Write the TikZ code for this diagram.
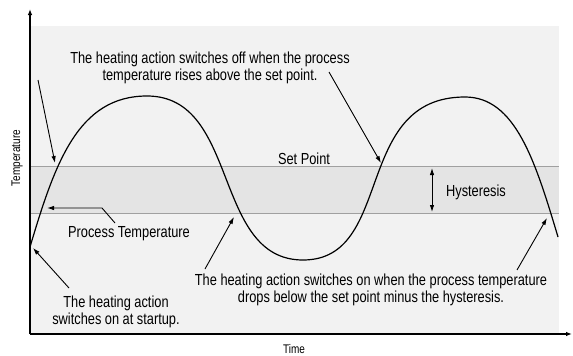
\documentclass[tikz,border=0pt]{standalone}
\usepackage{fontspec}
\setmainfont{Liberation Sans}[FakeStretch=0.8]
\usetikzlibrary{arrows.meta}

\definecolor{plotbg}{HTML}{F2F2F2}
\definecolor{bandbg}{HTML}{E4E4E4}
\definecolor{bandline}{HTML}{A0A0A0}

\begin{document}
\begin{tikzpicture}[x=1pt, y=-1pt,
  note/.style={font=\fontsize{16}{17}\selectfont, align=center, inner sep=0pt},
  axislabel/.style={font=\fontsize{12.5}{14}\selectfont, inner sep=0pt},
  pointer/.style={black, line width=0.9pt, -{Latex[length=7pt,width=4.5pt]}},
  axis/.style={black, line width=1.1pt, -{Latex[length=6pt,width=4.5pt]}}]
\useasboundingbox (0,0) rectangle (573,356);
% background and hysteresis band
\fill[plotbg] (30,26) rectangle (559,334);
\fill[bandbg] (30,166) rectangle (559,213);
\draw[bandline, line width=1pt] (30,166) -- (559,166);
\draw[bandline, line width=1pt] (30,213) -- (559,213);
% axes
\coordinate (origin) at (30,334);
\coordinate (ytop) at (30,9);
\coordinate (xend) at (572,334);
\draw[axis] (origin) -- (ytop);
\draw[axis] (origin) -- (xend);
\node[axislabel, rotate=90] (templabel) at (17,158) {Temperature};
\node[axislabel, anchor=base] (timelabel) at (294,353) {Time};
% process temperature curve
\draw[black, line width=1.2pt] (30,247) .. controls (55,163) and (78,96) .. (147,96)
  .. controls (240,96) and (212,260) .. (303,260)
  .. controls (395,260) and (352,97) .. (465,97)
  .. controls (515,97) and (535,160) .. (558,237);
% texts
\node[note, anchor=base] (offnote) at (210,80) {The heating action switches off when the process\\temperature rises above the set point.};
\node[note, anchor=base] (setpoint) at (304,164) {Set Point};
\node[note, anchor=base] (hyst) at (476,196) {Hysteresis};
\node[note, anchor=base] (proctemp) at (129,237) {Process Temperature};
\node[note, anchor=base] (startnote) at (116,324) {The heating action\\switches on at startup.};
\node[note, anchor=base] (onnote) at (371,302) {The heating action switches on when the process temperature\\drops below the set point minus the hysteresis.};
% pointer ends
\coordinate (firstfree) at (38,80);
\coordinate (firstoff) at (55,163);
\coordinate (offfrom) at (329,72);
\coordinate (offat) at (381,163);
\coordinate (procfrom) at (115,223);
\coordinate (procbend) at (102,208);
\coordinate (procat) at (47,208);
\coordinate (startfrom) at (69,288);
\coordinate (startat) at (33,248);
\coordinate (onfrom) at (205,269);
\coordinate (onat) at (234,217);
\coordinate (secondfrom) at (517,270);
\coordinate (secondat) at (547,218);
\coordinate (hysttop) at (432,168);
\coordinate (hystbot) at (432,212);
% pointers
\draw[pointer] (firstfree) -- (firstoff);
\draw[pointer] (offfrom) -- (offat);
\draw[pointer] (procfrom) -- (procbend) -- (procat);
\draw[pointer] (startfrom) -- (startat);
\draw[pointer] (onfrom) -- (onat);
\draw[pointer] (secondfrom) -- (secondat);
\draw[pointer, {Latex[length=7pt,width=4.5pt]}-{Latex[length=7pt,width=4.5pt]}] (hysttop) -- (hystbot);
\end{tikzpicture}
\end{document}
